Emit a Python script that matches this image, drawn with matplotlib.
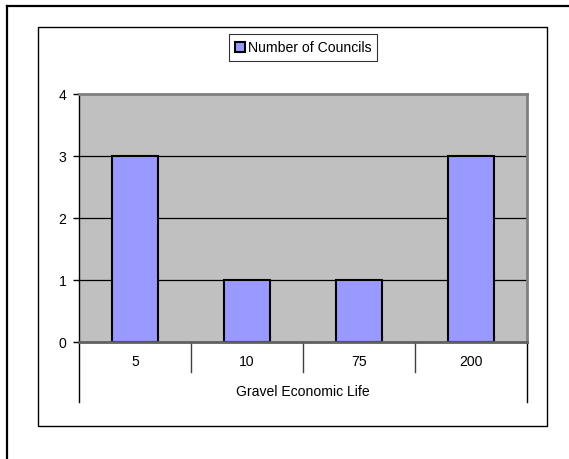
import matplotlib as mpl
mpl.use('Agg')
import matplotlib.pyplot as plt
from matplotlib.patches import Rectangle, Patch
from matplotlib.lines import Line2D

plt.rcParams['font.family'] = ['Liberation Sans', 'DejaVu Sans']

# data
categories = ['5', '10', '75', '200']
councils = [3, 1, 1, 3]
y_ticks = [0, 1, 2, 3, 4]
series_name = 'Number of Councils'
x_title = 'Gravel Economic Life'

FS = 10.1
W, H = 569, 459
fig = plt.figure(figsize=(W / 100, H / 100), dpi=100)

def fx(px):
  return px / W

def fy(py):
  return 1 - py / H

# outer frame (left + top edges visible)
fig.add_artist(Line2D([fx(7), fx(7)], [fy(6), fy(462)], color='black', lw=1.6))
fig.add_artist(Line2D([fx(7), fx(568)], [fy(6), fy(6)], color='black', lw=1.6))

# chart area frame
fig.add_artist(Rectangle((fx(38), fy(426)), fx(547) - fx(38), fy(27) - fy(426),
                         fill=False, edgecolor='black', lw=1.0))

# plot area
left, right, top, bottom = 79, 527, 94, 342
ax = fig.add_axes([fx(left), fy(bottom), fx(right) - fx(left), fy(top) - fy(bottom)])
ax.set_facecolor('#c0c0c0')

xs = list(range(len(categories)))
ax.bar(xs, councils, width=0.41, color='#9999ff', edgecolor='black', lw=1.5, zorder=3)

ax.set_xlim(-0.5, len(categories) - 0.5)
ax.set_ylim(y_ticks[0], y_ticks[-1])
ax.set_yticks(y_ticks)
ax.set_yticklabels([str(t) for t in y_ticks], fontsize=FS)
ax.tick_params(axis='y', length=4, width=1, color='black', pad=5)
ax.set_xticks([])

# grid lines
for t in y_ticks[1:-1]:
  ax.axhline(t, color='black', lw=0.9, zorder=1)

for s in ['top', 'right']:
  ax.spines[s].set_color('#808080')
  ax.spines[s].set_linewidth(2)
ax.spines['left'].set_color('black')
ax.spines['left'].set_linewidth(1)
ax.spines['bottom'].set_color('#606060')
ax.spines['bottom'].set_linewidth(2)
ax.spines['bottom'].set_zorder(4)

# category labels and separators below axis
tr = ax.get_xaxis_transform()
h_ax = bottom - top
for i, c in enumerate(categories):
  ax.text(i, -20 / h_ax, c, transform=tr, ha='center', va='center', fontsize=FS)
for b in range(len(categories) + 1):
  depth = 60 if b in (0, len(categories)) else 30
  ax.plot([b - 0.5, b - 0.5], [0, -depth / h_ax], transform=tr, color='#404040' if 0 < b < len(categories) else 'black',
          lw=1, clip_on=False)
ax.text(0.5, -50 / h_ax, x_title, transform=ax.transAxes, ha='center', va='center', fontsize=FS)

# legend
handle = Patch(facecolor='#9999ff', edgecolor='black', lw=1.5)
leg = fig.legend([handle], [series_name], loc='center', bbox_to_anchor=(fx(303), fy(47.5)),
                 fontsize=FS, frameon=True, fancybox=False, handlelength=0.7, handleheight=0.7,
                 handletextpad=0.2, borderpad=0.45, borderaxespad=0)
leg.get_frame().set_edgecolor('black')
leg.get_frame().set_linewidth(0.8)

fig.savefig('out.png', dpi=100)
